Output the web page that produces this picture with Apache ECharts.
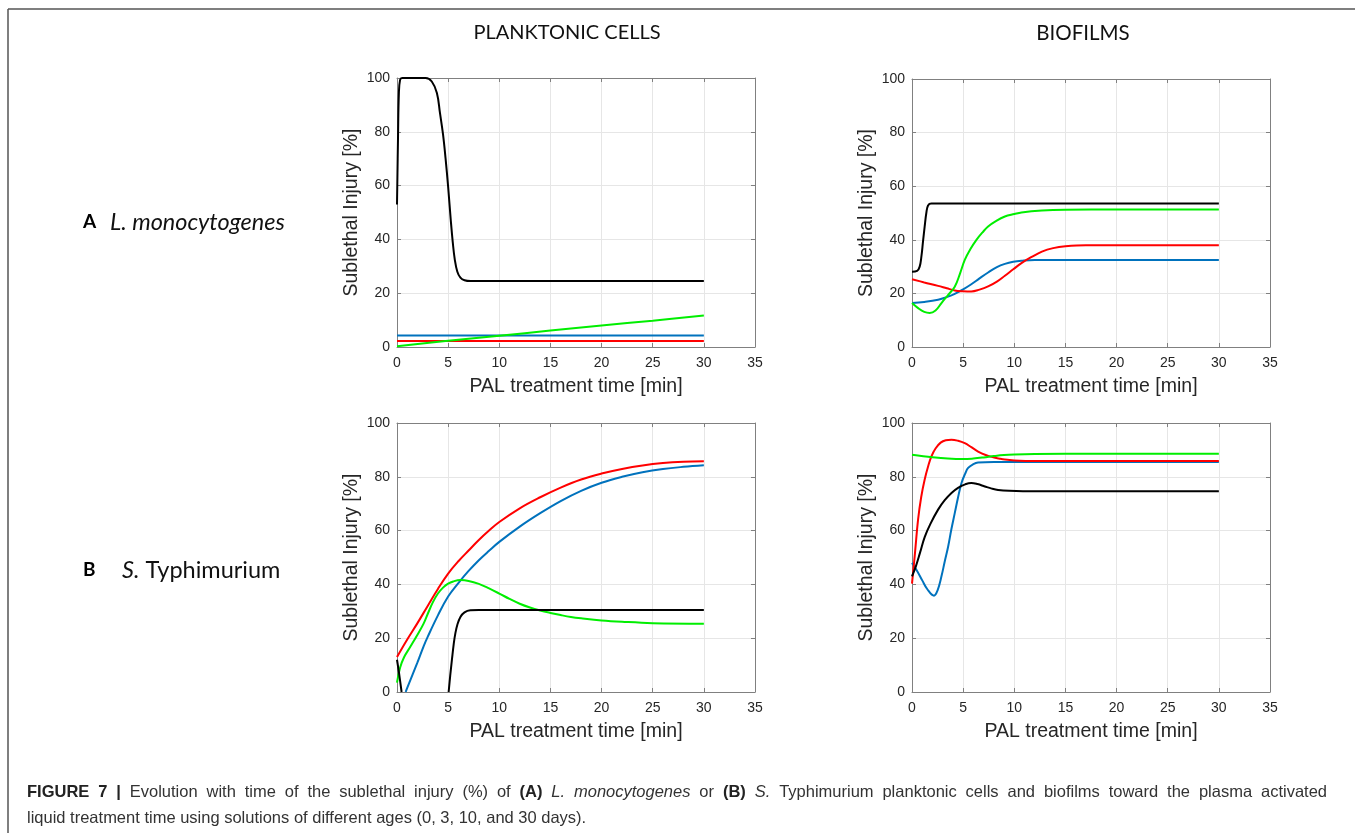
<!DOCTYPE html>
<html>
<head>
<meta charset="utf-8">
<script src="https://cdn.jsdelivr.net/npm/echarts@6/dist/echarts.min.js"></script>
<style>
  html, body { margin: 0; padding: 0; background: #fff; }
  #chart { width: 1355px; height: 833px; }
</style>
</head>
<body>
<div id="chart"></div>
<script>
// axis ranges / ticks
const xMin = 0, xMax = 35, xStep = 5;
const yMin = 0, yMax = 100, yStep = 20;

const colTitles = ['PLANKTONIC CELLS', 'BIOFILMS'];
const seriesNames = ['0 days', '3 days', '10 days', '30 days'];
const lineColors = ['#0072bd', '#ff0000', '#00ee00', '#000000'];

// (A) L. monocytogenes, planktonic cells  [time, injury]
const lmPlankBlue = [[0, 4.3], [30, 4.3]];
const lmPlankRed = [[0, 2.2], [30, 2.2]];
const lmPlankGreen = [[0, 0.3], [5, 2.3], [10, 4.2], [15, 6.1], [20, 8.0], [25, 9.8], [30, 11.7]];
const lmPlankBlack = [[0, 53], [0.1, 78], [0.18, 94], [0.3, 99.3], [0.5, 100], [2.8, 100], [3.4, 98.7],
  [3.9, 94.4], [4.2, 87], [4.5, 79], [4.75, 70], [5.0, 59.5], [5.25, 47.5], [5.45, 39], [5.65, 32.5],
  [5.9, 28], [6.2, 25.8], [6.6, 24.8], [7.2, 24.5], [30, 24.5]];

// (A) L. monocytogenes, biofilms
const lmBioBlue = [[0, 16.4], [1.2, 16.8], [2.55, 17.6], [3.3, 18.5], [4.18, 19.8], [5.0, 21.5], [5.8, 23.4],
  [6.6, 25.6], [7.44, 27.8], [8.3, 29.8], [9.08, 31], [9.9, 31.8], [10.7, 32.2], [12, 32.5], [30, 32.5]];
const lmBioRed = [[0, 25.3], [1.2, 24.1], [2.55, 22.8], [3.4, 21.9], [4.18, 21.1], [5.0, 20.8], [5.8, 20.7],
  [6.6, 21.4], [7.44, 22.6], [8.3, 24.4], [9.08, 26.6], [9.9, 29], [10.7, 31.3], [11.7, 33.6], [12.7, 35.6],
  [13.8, 36.9], [15, 37.6], [17, 38], [30, 38]];
const lmBioGreen = [[0, 16.4], [0.6, 14.5], [1.2, 13.1], [1.73, 12.7], [2.3, 13.6], [2.88, 16.4], [3.5, 19.3],
  [4.18, 22.5], [4.7, 27.5], [5.16, 32.5], [5.7, 36.5], [6.3, 40], [6.9, 42.8], [7.44, 45], [8.2, 47],
  [9.08, 48.7], [10, 49.6], [10.7, 50.2], [12.7, 50.9], [15, 51.2], [20, 51.3], [30, 51.3]];
const lmBioBlack = [[0, 28.1], [0.5, 28.4], [0.75, 30], [0.92, 33.8], [1.08, 39.5], [1.24, 45], [1.4, 50],
  [1.57, 52.8], [1.9, 53.5], [30, 53.5]];

// (B) S. Typhimurium, planktonic cells
const stPlankBlue = [[0.85, 0], [1, 1.5], [2, 11], [2.6, 17], [3, 20.5], [4, 28.5], [5, 35.5], [6, 40.5],
  [7, 45], [8, 49], [9, 52.5], [10, 55.8], [12, 61.5], [14, 66.5], [16, 71], [18, 74.8], [20, 77.8],
  [22, 80], [24, 81.7], [26, 82.9], [28, 83.7], [30, 84.3]];
const stPlankRed = [[0, 13], [1, 19.5], [2, 25.6], [3, 32], [4, 38.3], [5, 44], [6, 48.6], [7, 52.6],
  [8, 56.5], [9, 60], [10, 63.2], [12, 68.3], [14, 72.4], [16, 76], [18, 79], [20, 81.2], [22, 82.9],
  [24, 84.2], [26, 85.1], [28, 85.6], [30, 85.8]];
const stPlankGreen = [[0, 3.5], [0.3, 9], [0.7, 13], [1.3, 16.8], [2, 21.3], [2.6, 25.4], [3, 29],
  [3.5, 33.3], [4, 36.6], [4.5, 38.8], [5, 40.3], [5.5, 41.1], [6.2, 41.6], [7, 41.3], [8, 40.2],
  [9, 38.5], [10, 36.6], [11, 34.6], [12, 32.8], [13, 31.4], [14, 30.3], [15, 29.4], [16, 28.6],
  [17, 27.9], [18, 27.4], [20, 26.6], [22, 26.1], [25, 25.6], [30, 25.4]];
const stPlankBlack = [[0, 12], [0.2, 7], [0.45, 0], [2.5, '-'], [5.05, 0], [5.2, 6], [5.37, 12],
  [5.55, 18], [5.7, 21.7], [5.9, 25], [6.2, 27.9], [6.6, 29.6], [7.16, 30.4], [8, 30.5], [30, 30.5]];

// (B) S. Typhimurium, biofilms
const stBioBlue = [[0, 48], [0.5, 45], [1.0, 41.5], [1.5, 38.2], [2.15, 35.8], [2.5, 37.8], [2.88, 43],
  [3.2, 48.5], [3.53, 54], [3.85, 60.5], [4.18, 66.5], [4.5, 72.3], [4.84, 77.7], [5.2, 81.2],
  [5.49, 83.3], [6, 84.7], [6.46, 85.3], [8, 85.5], [30, 85.5]];
const stBioRed = [[0, 40.3], [0.3, 52], [0.59, 64], [0.9, 72.5], [1.24, 79], [1.6, 84.2], [1.9, 87.6],
  [2.3, 90.5], [2.8, 92.7], [3.3, 93.6], [3.86, 93.8], [4.5, 93.4], [5.16, 92.5], [5.8, 91], [6.46, 89.4],
  [7.2, 88.1], [7.78, 87.4], [8.5, 86.8], [9.08, 86.4], [10, 86.1], [12, 85.9], [30, 85.9]];
const stBioGreen = [[0, 88.2], [2, 87.3], [3.5, 86.8], [5, 86.6], [6, 86.8], [7, 87.2], [8, 87.7],
  [9, 88.1], [10, 88.3], [12, 88.5], [15, 88.6], [30, 88.6]];
const stBioBlack = [[0, 43], [0.4, 47], [0.8, 52], [1.24, 57.6], [1.8, 62.5], [2.55, 67.8], [3.2, 71.3],
  [3.86, 74], [4.5, 75.9], [5.2, 77.2], [5.8, 77.7], [6.4, 77.3], [7.12, 76.4], [7.8, 75.6], [8.42, 75.1],
  [9.5, 74.8], [12, 74.6], [30, 74.6]];

const panels = [
  [lmPlankBlue, lmPlankRed, lmPlankGreen, lmPlankBlack],
  [lmBioBlue, lmBioRed, lmBioGreen, lmBioBlack],
  [stPlankBlue, stPlankRed, stPlankGreen, stPlankBlack],
  [stBioBlue, stBioRed, stBioGreen, stBioBlack]
];

// caption: first line is justified, words tagged with style
const captionLine1 = [
  ['b', 'FIGURE'], ['b', '7'], ['b', '|'], ['n', 'Evolution'], ['n', 'with'], ['n', 'time'], ['n', 'of'],
  ['n', 'the'], ['n', 'sublethal'], ['n', 'injury'], ['n', '(%)'], ['n', 'of'], ['b', '(A)'], ['i', 'L.'],
  ['i', 'monocytogenes'], ['n', 'or'], ['b', '(B)'], ['i', 'S.'], ['n', 'Typhimurium'], ['n', 'planktonic'],
  ['n', 'cells'], ['n', 'and'], ['n', 'biofilms'], ['n', 'toward'], ['n', 'the'], ['n', 'plasma'], ['n', 'activated']
];
const captionLine2 = 'liquid treatment time using solutions of different ages (0, 3, 10, and 30 days).';

const gridBoxes = [
  { left: 397, top: 78, width: 358, height: 269 },
  { left: 912, top: 79, width: 358, height: 268 },
  { left: 397, top: 423, width: 358, height: 269 },
  { left: 912, top: 423, width: 358, height: 269 }
];

const axisGrey = '#808080';
const labelGrey = '#262626';
const tickFont = 'Liberation Sans, Arial, sans-serif';

const xAxes = [];
const yAxes = [];
const series = [];

gridBoxes.forEach((g, i) => {
  const common = {
    type: 'value',
    gridIndex: i,
    axisLine: { show: true, onZero: false, lineStyle: { color: axisGrey, width: 1 } },
    axisTick: { show: true, inside: true, length: 4, lineStyle: { color: axisGrey } }
  };
  xAxes.push(Object.assign({}, common, {
    position: 'bottom', min: xMin, max: xMax, interval: xStep,
    axisLabel: { color: labelGrey, fontSize: 14, margin: 9, fontFamily: tickFont },
    splitLine: { show: true, lineStyle: { color: '#e6e6e6', width: 1 } },
    name: 'PAL treatment time [min]', nameLocation: 'middle', nameGap: 30,
    nameTextStyle: { color: labelGrey, fontSize: 19.5, fontFamily: tickFont }
  }));
  xAxes.push(Object.assign({}, common, {
    position: 'top', min: xMin, max: xMax, interval: xStep,
    axisLabel: { show: false }, splitLine: { show: false }
  }));
  yAxes.push(Object.assign({}, common, {
    position: 'left', min: yMin, max: yMax, interval: yStep,
    axisLabel: { color: labelGrey, fontSize: 14, margin: 7, fontFamily: tickFont },
    splitLine: { show: true, lineStyle: { color: '#e6e6e6', width: 1 } },
    name: 'Sublethal Injury [%]', nameLocation: 'middle', nameGap: 35,
    nameTextStyle: { color: labelGrey, fontSize: 19.5, fontFamily: tickFont }
  }));
  yAxes.push(Object.assign({}, common, {
    position: 'right', min: yMin, max: yMax, interval: yStep,
    axisLabel: { show: false }, splitLine: { show: false }
  }));

  panels[i].forEach((data, k) => {
    series.push({
      type: 'line',
      name: seriesNames[k],
      xAxisIndex: i * 2,
      yAxisIndex: i * 2,
      data: data,
      showSymbol: false,
      symbol: 'none',
      smooth: 0.4,
      clip: true,
      connectNulls: false,
      lineStyle: { color: lineColors[k], width: 2 },
      itemStyle: { color: lineColors[k] },
      z: 3 + k
    });
  });
});

const labelFont = 'Lato, "Open Sans", sans-serif';
const capFont = 'Liberation Sans, Arial, sans-serif';
const capSize = 16.5;

function rowStyle(extra) {
  return Object.assign({ fontFamily: labelFont, fontWeight: 'normal', fontSize: 23.5, color: '#111', lineHeight: 28 }, extra);
}
function capStyle(extra) {
  return Object.assign({ fontFamily: capFont, fontWeight: 'normal', fontSize: capSize, color: '#333', lineHeight: 26 }, extra);
}

// justify caption line 1 between x=27 and x=1327
const measureCtx = document.createElement('canvas').getContext('2d');
const capFonts = {
  b: 'bold ' + capSize + 'px ' + capFont,
  i: 'italic ' + capSize + 'px ' + capFont,
  n: capSize + 'px ' + capFont
};
let wordsWidth = 0;
captionLine1.forEach(([s, w]) => { measureCtx.font = capFonts[s]; wordsWidth += measureCtx.measureText(w).width; });
const gapWidth = (1327 - 27 - wordsWidth) / (captionLine1.length - 1);
const line1Text = captionLine1.map(([s, w]) => '{' + s + '|' + w + '}').join('{g| }');

const titles = [
  {
    text: '{b|A}', left: 83, top: 208, padding: 0,
    textStyle: { fontWeight: 'normal', rich: { b: rowStyle({ fontWeight: 'bold', fontSize: 19, color: '#000' }) } }
  },
  {
    text: '{i|L. monocytogenes}', left: 110, top: 208, padding: 0,
    textStyle: { fontWeight: 'normal', rich: { i: rowStyle({ fontStyle: 'italic' }) } }
  },
  {
    text: '{b|B}', left: 83, top: 556, padding: 0,
    textStyle: { fontWeight: 'normal', rich: { b: rowStyle({ fontWeight: 'bold', fontSize: 19, color: '#000' }) } }
  },
  {
    text: '{i|S.}{n| Typhimurium}', left: 122, top: 556, padding: 0,
    textStyle: { fontWeight: 'normal', rich: { i: rowStyle({ fontStyle: 'italic' }), n: rowStyle({}) } }
  },
  {
    text: line1Text, left: 27, top: 779, padding: 0,
    textStyle: { fontWeight: 'normal', rich: {
      b: capStyle({ fontWeight: 'bold', color: '#222' }),
      i: capStyle({ fontStyle: 'italic' }),
      n: capStyle({}),
      g: capStyle({ width: gapWidth })
    } }
  },
  {
    text: '{n|' + captionLine2 + '}', left: 27, top: 805, padding: 0,
    textStyle: { fontWeight: 'normal', rich: { n: capStyle({}) } }
  }
];

const chart = echarts.init(document.getElementById('chart'), null, { renderer: 'canvas' });
chart.setOption({
  animation: false,
  backgroundColor: '#fff',
  title: titles,
  grid: gridBoxes.map(g => Object.assign({ show: false, containLabel: false }, g)),
  xAxis: xAxes,
  yAxis: yAxes,
  series: series,
  graphic: [
    { type: 'line', shape: { x1: 8, y1: 9, x2: 1355, y2: 9 }, style: { stroke: '#555', lineWidth: 1.5 } },
    { type: 'line', shape: { x1: 8, y1: 9, x2: 8, y2: 833 }, style: { stroke: '#555', lineWidth: 1.5 } },
    {
      type: 'text', x: 567, y: 33,
      style: { text: colTitles[0], fill: '#111', font: '20px Lato, "Open Sans", sans-serif', textAlign: 'center', textVerticalAlign: 'middle' }
    },
    {
      type: 'text', x: 1083, y: 33,
      style: { text: colTitles[1], fill: '#111', font: '20.5px Lato, "Open Sans", sans-serif', textAlign: 'center', textVerticalAlign: 'middle' }
    }
  ]
});
window.addEventListener('resize', () => chart && chart.resize());
</script>
</body>
</html>
